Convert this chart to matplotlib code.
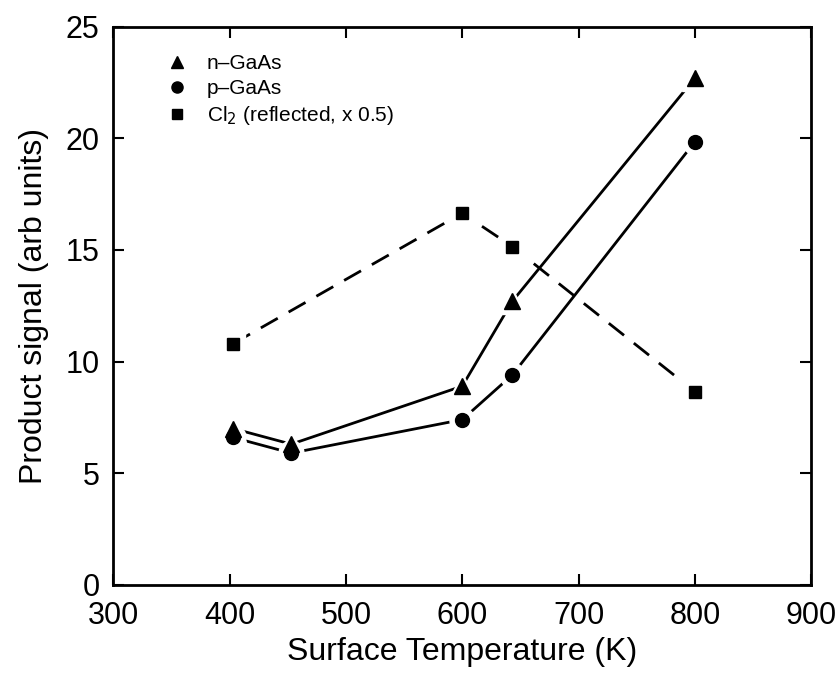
import numpy as np
import matplotlib.pyplot as plt
from matplotlib.lines import Line2D

plt.rcParams['font.family'] = ['Liberation Sans', 'DejaVu Sans']

# data
temp_n = [403, 453, 600, 643, 800]
n_gaas = [7.0, 6.3, 8.9, 12.7, 22.7]

temp_p = [403, 453, 600, 643, 800]
p_gaas = [6.6, 5.9, 7.4, 9.4, 19.85]

temp_cl = [403, 600, 643, 800]
cl2 = [10.8, 16.65, 15.15, 8.65]

xticks = [300, 400, 500, 600, 700, 800, 900]
yticks = [0, 5, 10, 15, 20, 25]

fig = plt.figure(figsize=(8.39, 6.84), dpi=100)
ax = fig.add_axes([0.135, 0.145, 0.832, 0.816])

series = [(temp_n, n_gaas, '^', '-', 11),
          (temp_p, p_gaas, 'o', '-', 10),
          (temp_cl, cl2, 's', (0, (7, 4.5)), 9)]

# lines
for x, y, m, ls, ms in series:
    ax.plot(x, y, color='black', ls=ls, lw=2, zorder=1)
# white halo so the lines stop short of the markers
for x, y, m, ls, ms in series:
    ax.plot(x, y, ls='none', marker=m, ms=ms + 8, color='white', zorder=2)
# markers
for x, y, m, ls, ms in series:
    ax.plot(x, y, ls='none', marker=m, ms=ms, color='black', zorder=3)

ax.set_xlim(300, 900)
ax.set_ylim(0, 25)
ax.set_xticks(xticks)
ax.set_yticks(yticks)
ax.tick_params(direction='in', length=8, width=1.5, top=True, right=True,
               labelsize=22)
ax.tick_params(axis='x', pad=12)
ax.tick_params(axis='y', pad=10)
for s in ax.spines.values():
    s.set_linewidth(2)

ax.set_xlabel('Surface Temperature (K)', fontsize=23, labelpad=4)
ax.set_ylabel('Product signal (arb units)', fontsize=23, labelpad=12)

handles = [Line2D([], [], ls='none', marker='^', ms=8, color='black'),
           Line2D([], [], ls='none', marker='o', ms=8, color='black'),
           Line2D([], [], ls='none', marker='s', ms=7, color='black')]
labels = ['n\u2013GaAs', 'p\u2013GaAs', 'Cl$_2$ (reflected, x 0.5)']
ax.legend(handles, labels, loc='upper left', bbox_to_anchor=(0.05, 0.985),
          frameon=False, fontsize=15, handletextpad=0.9, labelspacing=0.3,
          handlelength=1.0)

fig.savefig('out.png', dpi=100)
